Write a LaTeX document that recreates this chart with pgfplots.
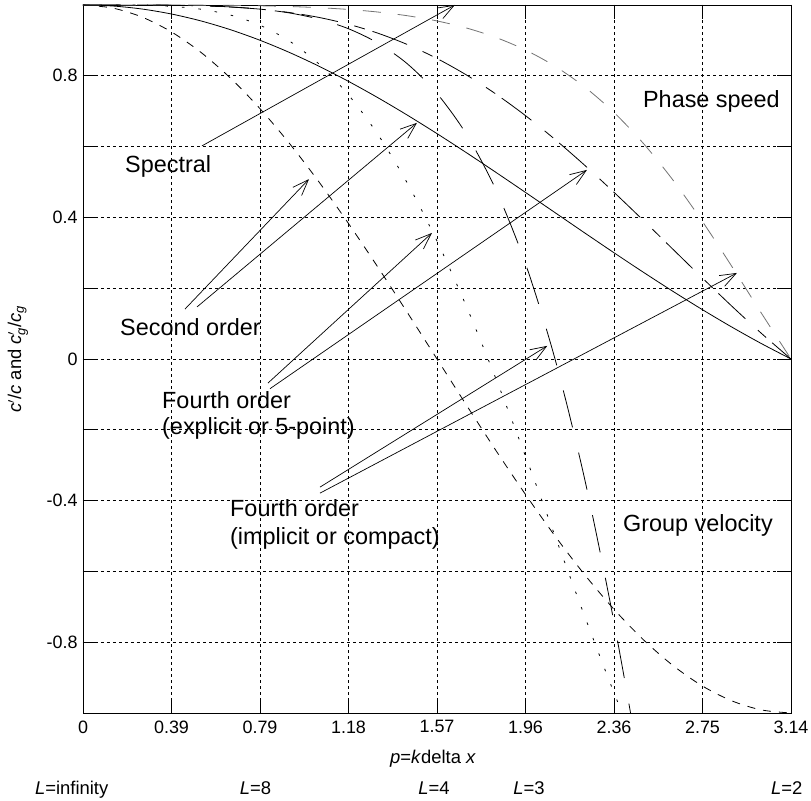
\documentclass[border=0pt]{standalone}
\usepackage{fontspec}
\setmainfont{Liberation Sans}
\usepackage{amsmath}
\usepackage{pgfplots}
\usepackage{pgfplotstable}
\pgfplotsset{compat=1.18}
\usetikzlibrary{arrows.meta}

% Normalised phase speed (ph) and group velocity (gr) against p = k delta x
% spec: spectral; 2: second order; 4e: fourth order explicit; 4c: fourth order compact
\pgfplotstableread{
p        spec  ph2      gr2       ph4e     gr4e      ph4c     gr4c
0.00000  1     1.00000  1.00000   1.00000  1.00000   1.00000  1.00000
0.13090  1     0.99715  0.99144   0.99999  0.99995   1.00000  0.99999
0.26180  1     0.98862  0.96593   0.99985  0.99923   0.99998  0.99987
0.39270  1     0.97449  0.92388   0.99922  0.99614   0.99986  0.99944
0.52360  1     0.95493  0.86603   0.99758  0.98803   0.99957  0.99782
0.65450  1     0.93012  0.79335   0.99419  0.97153   0.99893  0.99453
0.78540  1     0.90032  0.70711   0.98822  0.94281   0.99773  0.98829
0.91630  1     0.86582  0.60876   0.97873  0.89795   0.99567  0.97751
1.04720  1     0.82699  0.50000   0.96482  0.83333   0.99239  0.96000
1.17810  1     0.78421  0.38268   0.94558  0.74595   0.98739  0.93288
1.30900  1     0.73791  0.25882   0.92022  0.63377   0.98004  0.89233
1.43990  1     0.68855  0.13053   0.88811  0.49601   0.96955  0.83345
1.57080  1     0.63662  0.00000   0.84883  0.33333   0.95493  0.75000
1.70170  1     0.58262  -0.13053  0.80217  0.14794   0.93495  0.63431
1.83260  1     0.52708  -0.25882  0.74825  -0.05642  0.90814  0.47731
1.96350  1     0.47052  -0.38268  0.68739  -0.27454  0.87278  0.26911
2.09440  1     0.41350  -0.50000  0.62025  -0.50000  0.82700  0.00000
2.22529  1     0.35651  -0.60876  0.54769  -0.72541  0.76876  -0.33715
2.35619  1     0.30011  -0.70711  0.47088  -0.94281  0.69636  -0.74340
2.48709  1     0.24477  -0.79335  0.39109  -1.14408  0.60855  -1.20887
2.61799  1     0.19099  -0.86603  0.30979  -1.32137  0.50528  -1.70788
2.74889  1     0.13921  -0.92388  0.22849  -1.46754  0.38809  -2.19620
2.87979  1     0.08987  -0.96593  0.14876  -1.57658  0.26073  -2.61436
3.01069  1     0.04335  -0.99144  0.07213  -1.64390  0.12895  -2.89886
3.14159  1     0.00000  -1.00000  0.00000  -1.66667  0.00000  -3.00000
}\dispersion

\newcommand{\annfont}{\fontsize{23.5}{27}\selectfont}
\newcommand{\labfont}{\fontsize{18.5}{22}\selectfont}

\begin{document}
\begin{tikzpicture}
\begin{axis}[
  scale only axis, width=708bp, height=708bp,
  xmin=0, xmax=3.14159265, ymin=-1, ymax=1,
  xtick={0,0.392699,0.785398,1.178097,1.570796,1.963495,2.356194,2.748894,3.141593},
  xticklabels={0,0.39,0.79,1.18,1.57,1.96,2.36,2.75,3.14},
  ytick={-0.8,-0.6,-0.4,-0.2,0,0.2,0.4,0.6,0.8},
  yticklabels={-0.8,,-0.4,,0,,0.4,,0.8},
  tick align=inside, major tick length=14bp,
  tick style={black, line width=0.6bp},
  grid=major,
  major grid style={black, line width=0.6bp, dash pattern=on 3bp off 3bp},
  axis line style={black, line width=0.8bp},
  ticklabel style={font=\fontsize{18}{21}\selectfont},
  /pgf/number format/assume math mode=true,
  xticklabel style={yshift=-4bp},
  yticklabel style={xshift=-2bp},
  every axis plot/.append style={line width=0.8bp},
]
% spectral
\addplot[black] table[x=p, y=spec] {\dispersion};
% second order
\addplot[black, smooth] table[x=p, y=ph2] {\dispersion};
\addplot[black, smooth, dash pattern=on 8bp off 8bp] table[x=p, y=gr2] {\dispersion};
% fourth order, explicit
\addplot[black, smooth, dash pattern=on 37bp off 17bp on 11bp off 8bp] table[x=p, y=ph4e] {\dispersion};
\addplot[black, smooth, dash pattern=on 2.5bp off 14bp] table[x=p, y=gr4e] {\dispersion};
% fourth order, compact
\addplot[black!55, smooth, dash pattern=on 18bp off 17bp] table[x=p, y=ph4c] {\dispersion};
\addplot[black, smooth, dash pattern=on 38bp off 26bp] table[x=p, y=gr4c] {\dispersion};

% annotations
\begin{scope}[every node/.style={inner sep=0pt, anchor=base west, font=\annfont},
              ann/.style={line width=0.7bp, -{Straight Barb[length=16bp, width=12bp]}}]
\node at (axis cs:0.1863,0.5254) {Spectral};
\draw[ann] (axis cs:0.528,0.602) -- (axis cs:1.650,1.0);

\node at (axis cs:0.1642,0.0650) {Second order};
\draw[ann] (axis cs:0.4525,0.141) -- (axis cs:1.0027,0.508);
\draw[ann] (axis cs:0.5058,0.147) -- (axis cs:1.4818,0.667);

\node at (axis cs:0.3505,-0.1412) {Fourth order};
\node at (axis cs:0.3505,-0.2119) {(explicit or 5-point)};
\draw[ann] (axis cs:0.8208,-0.068) -- (axis cs:1.5484,0.356);
\draw[ann] (axis cs:0.8296,-0.084) -- (axis cs:2.2360,0.534);

\node at (axis cs:0.6522,-0.4463) {Fourth order};
\node at (axis cs:0.6522,-0.5254) {(implicit or compact)};
\draw[ann] (axis cs:1.0515,-0.362) -- (axis cs:2.06,0.037);
\draw[ann] (axis cs:1.0515,-0.379) -- (axis cs:2.9016,0.243);

\node at (axis cs:2.4845,0.7090) {Phase speed};
\node at (axis cs:2.3957,-0.4887) {Group velocity};
\end{scope}
\end{axis}

% axis titles and wavelength markers below the frame
\node[anchor=base, inner sep=0pt, font=\labfont] at (350bp,-50bp)
  {\textit{p}=\textit{k}delta \textit{x}};
\node[anchor=center, inner sep=0pt, rotate=90, font=\labfont] at (-65bp,354bp)
  {\textit{c}$'$/\textit{c} and \textit{c}$'_{\text{\itshape g}}$/\textit{c}$_{\text{\itshape g}}$};
\begin{scope}[every node/.style={anchor=base, inner sep=0pt, font=\labfont}]
\node at (-11.3bp,-81bp) {\textit{L}=infinity};
\node at (172.5bp,-81bp) {\textit{L}=8};
\node at (351bp,-81bp) {\textit{L}=4};
\node at (446bp,-81bp) {\textit{L}=3};
\node at (703.7bp,-81bp) {\textit{L}=2};
\end{scope}

\pgfresetboundingbox
\path[use as bounding box] (-83bp,-88bp) rectangle (728bp,713bp);
\end{tikzpicture}
\end{document}
